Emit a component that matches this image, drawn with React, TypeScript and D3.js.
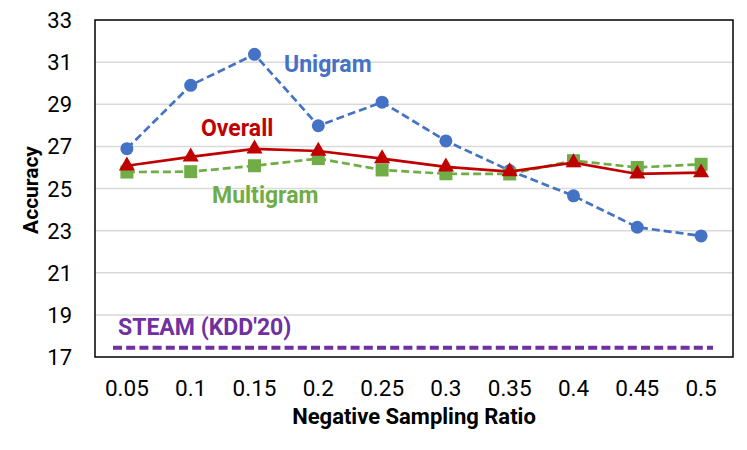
import { useEffect, useRef } from 'react';
import * as d3 from 'd3';

// Data
const ratios = ['0.05', '0.1', '0.15', '0.2', '0.25', '0.3', '0.35', '0.4', '0.45', '0.5'];
const unigram = [26.89, 29.9, 31.37, 27.98, 29.1, 27.26, 25.85, 24.65, 23.16, 22.75];
const overall = [26.08, 26.5, 26.88, 26.78, 26.42, 26.03, 25.8, 26.23, 25.69, 25.75];
const multigram = [25.78, 25.8, 26.08, 26.42, 25.88, 25.7, 25.69, 26.32, 26.0, 26.15];
const steam = 17.44;
const yTicks = [17, 19, 21, 23, 25, 27, 29, 31, 33];

const BLUE = '#4472C4';
const RED = '#C00000';
const GREEN = '#70AD47';
const PURPLE = '#7030A0';

const App = () => {
  const svgRef = useRef<SVGSVGElement | null>(null);

  useEffect(() => {
    const width = 747;
    const height = 450;
    const marginTop = 20;
    const marginRight = 14;
    const marginBottom = 93;
    const marginLeft = 95;
    const font = 'Roboto, "Liberation Sans", sans-serif';

    const svg = d3.select(svgRef.current)
      .attr('width', width)
      .attr('height', height)
      .attr('viewBox', [0, 0, width, height])
      .style('font-family', font);
    svg.selectAll('*').remove();

    const x = d3.scalePoint<string>()
      .domain(ratios)
      .range([marginLeft, width - marginRight])
      .padding(0.5);

    const y = d3.scaleLinear()
      .domain([17, 33])
      .range([height - marginBottom, marginTop]);

    // gridlines
    svg.append('g')
      .selectAll('line')
      .data(yTicks.slice(1, -1))
      .join('line')
      .attr('x1', marginLeft)
      .attr('x2', width - marginRight)
      .attr('y1', d => y(d))
      .attr('y2', d => y(d))
      .attr('stroke', '#d9d9d9')
      .attr('stroke-width', 1.5);

    // y tick labels
    svg.append('g')
      .selectAll('text')
      .data(yTicks)
      .join('text')
      .attr('x', 72)
      .attr('y', d => y(d) + 8)
      .attr('text-anchor', 'end')
      .attr('font-size', 22)
      .attr('fill', '#000')
      .text(d => d);

    // x tick labels
    svg.append('g')
      .selectAll('text')
      .data(ratios)
      .join('text')
      .attr('x', d => x(d)!)
      .attr('y', 396)
      .attr('text-anchor', 'middle')
      .attr('font-size', 22.5)
      .attr('fill', '#000')
      .text(d => d);

    // axis titles
    svg.append('text')
      .attr('transform', `translate(38,190) rotate(-90)`)
      .attr('text-anchor', 'middle')
      .attr('font-size', 21)
      .attr('font-weight', 'bold')
      .text('Accuracy');

    svg.append('text')
      .attr('x', 414)
      .attr('y', 424)
      .attr('text-anchor', 'middle')
      .attr('font-size', 22)
      .attr('font-weight', 'bold')
      .text('Negative Sampling Ratio');

    // STEAM baseline
    svg.append('line')
      .attr('x1', 113)
      .attr('x2', 713)
      .attr('y1', y(steam))
      .attr('y2', y(steam))
      .attr('stroke', PURPLE)
      .attr('stroke-width', 4)
      .attr('stroke-dasharray', '9,4.2');

    const line = d3.line<number>()
      .x((d, i) => x(ratios[i])!)
      .y(d => y(d));

    // Unigram
    svg.append('path')
      .datum(unigram)
      .attr('d', line)
      .attr('fill', 'none')
      .attr('stroke', BLUE)
      .attr('stroke-width', 2.7)
      .attr('stroke-dasharray', '8,4');
    svg.append('g')
      .selectAll('circle')
      .data(unigram)
      .join('circle')
      .attr('cx', (d, i) => x(ratios[i])!)
      .attr('cy', d => y(d))
      .attr('r', 6.5)
      .attr('fill', BLUE);

    // Multigram
    svg.append('path')
      .datum(multigram)
      .attr('d', line)
      .attr('fill', 'none')
      .attr('stroke', GREEN)
      .attr('stroke-width', 2.7)
      .attr('stroke-dasharray', '8,4');
    svg.append('g')
      .selectAll('rect')
      .data(multigram)
      .join('rect')
      .attr('x', (d, i) => x(ratios[i])! - 6.5)
      .attr('y', d => y(d) - 6.5)
      .attr('width', 13)
      .attr('height', 13)
      .attr('fill', GREEN);

    // Overall
    svg.append('path')
      .datum(overall)
      .attr('d', line)
      .attr('fill', 'none')
      .attr('stroke', RED)
      .attr('stroke-width', 2.7);
    const tri = d3.symbol().type(d3.symbolTriangle).size(112);
    svg.append('g')
      .selectAll('path')
      .data(overall)
      .join('path')
      .attr('transform', (d, i) => `translate(${x(ratios[i])},${y(d)})`)
      .attr('d', tri)
      .attr('fill', RED);

    // series labels
    const labels = [
      { text: 'Unigram', x: 284, y: 72, color: BLUE },
      { text: 'Overall', x: 201, y: 136, color: RED },
      { text: 'Multigram', x: 212, y: 203, color: GREEN },
      { text: "STEAM (KDD'20)", x: 118, y: 335, color: PURPLE },
    ];
    svg.append('g')
      .selectAll('text')
      .data(labels)
      .join('text')
      .attr('x', d => d.x)
      .attr('y', d => d.y)
      .attr('font-size', 23)
      .attr('font-weight', 'bold')
      .attr('fill', d => d.color)
      .text(d => d.text);

    // plot frame
    svg.append('rect')
      .attr('x', marginLeft)
      .attr('y', marginTop)
      .attr('width', width - marginLeft - marginRight)
      .attr('height', height - marginTop - marginBottom)
      .attr('fill', 'none')
      .attr('stroke', '#000')
      .attr('stroke-width', 1.5);
  }, []);

  return (
    <div style={{ position: 'absolute', left: 0, top: 0, background: '#fff' }}>
      <svg ref={svgRef}></svg>
    </div>
  );
};

export default App;
